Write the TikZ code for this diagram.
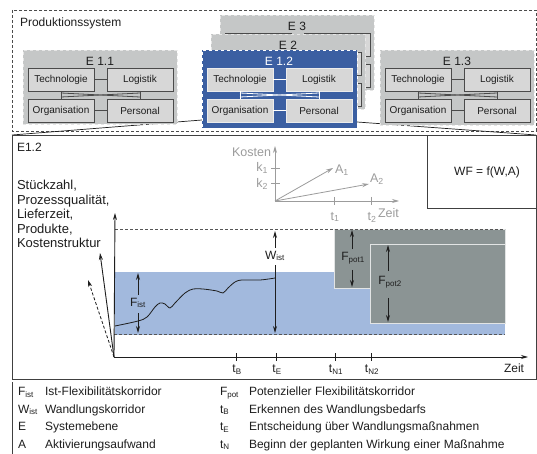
\documentclass[tikz,border=0pt]{standalone}
\usepackage{fontspec}
\setmainfont{Liberation Sans}
\usetikzlibrary{arrows.meta,calc}
\definecolor{hatch}{HTML}{C5C7C7}
\definecolor{ebord}{HTML}{E6E6E6}
\definecolor{ibox}{HTML}{D7D7D7}
\definecolor{iline}{HTML}{4A4A4A}
\definecolor{eblue}{HTML}{3B5FA2}
\definecolor{band}{HTML}{A2B9DD}
\definecolor{potg}{HTML}{8B9494}
\definecolor{chartg}{HTML}{9C9C9C}
\definecolor{ink}{HTML}{1E1E1E}
\tikzset{
  gframe/.style={fill=hatch, draw=ebord, dashed, line width=0.7pt, anchor=north west, minimum width=154},
  bframe/.style={fill=eblue, draw=white, dashed, line width=0.7pt, anchor=north west, minimum width=155},
  gtitle/.style={font=\fontsize{12}{14}\selectfont, text=ink},
  btitle/.style={font=\fontsize{12}{14}\selectfont, text=white},
  ginner/.style={fill=ibox, draw=iline, line width=0.9pt, anchor=north west, minimum width=66, minimum height=23, font=\fontsize{10}{12}\selectfont, text=ink},
  binner/.style={fill=ibox, draw=white!85!gray, line width=0.9pt, anchor=north west, minimum width=66, minimum height=23, font=\fontsize{10}{12}\selectfont, text=ink},
  glink/.style={draw=iline, line width=0.8pt},
  blink/.style={draw=white, line width=0.8pt},
  frame/.style={draw=ink!80, dashed, dash pattern=on 3pt off 2pt, line width=0.8pt},
  zline/.style={draw=ink, line width=0.7pt},
  panelbox/.style={draw=ink!85, line width=0.8pt, fill=white, anchor=north west},
  arr/.style={draw=ink, line width=0.9pt, -{Stealth[length=7pt,width=4pt]}},
  darr/.style={draw=ink, line width=0.8pt, dashed, dash pattern=on 3pt off 2pt, -{Stealth[length=7pt,width=4pt]}},
  carr/.style={draw=chartg, line width=0.8pt, -{Stealth[length=7pt,width=4pt]}},
  ctick/.style={draw=chartg, line width=0.8pt},
  clabel/.style={text=chartg, font=\fontsize{12.5}{14}\selectfont},
  corr/.style={draw=ink!75, dashed, dash pattern=on 3pt off 2pt, line width=0.8pt},
  mtick/.style={draw=ink, line width=0.9pt},
  lsym/.style={anchor=base west},
  ltxt/.style={anchor=base west},
}
% #1 prefix, #2 x, #3 y, #4 title, #5 height, #6 variant, #7 show labels (1/0)
\newcommand\EGroup[7]{%
  \ifnum#7=1
    \def\labT{Technologie}\def\labL{Logistik}\def\labO{Organisation}\def\labP{Personal}%
  \else
    \def\labT{}\def\labL{}\def\labO{}\def\labP{}%
  \fi
  \begin{scope}[shift={(#2,#3)}]
    \node[#6frame, minimum height=#5] (#1) at (0,0) {};
    \node[#6title] (#1t) at (77,11) {#4};
    \node[#6inner] (#1T) at (5,18) {\labT};
    \node[#6inner] (#1L) at (84,18) {\labL};
    \node[#6inner] (#1O) at (5,49) {\labO};
    \node[#6inner] (#1P) at (84,49) {\labP};
    \draw[#6link] (#1T) -- (#1L);
    \draw[#6link] (#1O) -- (#1P);
    \draw[#6link] (#1T) -- (#1O);
    \draw[#6link] (#1L) -- (#1P);
    \draw[#6link] ($(#1T.south)+(0,2)$) -- ($(#1P.north)+(0,-2)$);
    \draw[#6link] ($(#1L.south)+(0,2)$) -- ($(#1O.north)+(0,-2)$);
  \end{scope}}
\begin{document}
\begin{tikzpicture}[x=1pt,y=-1pt,
  every node/.style={font=\fontsize{12}{14}\selectfont, text=ink, inner sep=0pt, outer sep=0pt}]
\useasboundingbox (0,0) rectangle (537,454);
% production system frame
\coordinate (pf1) at (12,10);
\coordinate (pf2) at (536,131);
\draw[frame] (pf1) rectangle (pf2);
\node[anchor=west] (ps) at (20,23) {Produktionssystem};
% zoom lines
\coordinate (zl1) at (202,120);
\coordinate (zl2) at (12,135);
\coordinate (zr1) at (357,122);
\coordinate (zr2) at (536,135);
\draw[zline] (zl1) -- (zl2);
\draw[zline] (zr1) -- (zr2);
% system levels
\EGroup{Ee}{220}{15}{E 3}{75}{g}{0}
\EGroup{Ed}{211}{34}{E 2}{75}{g}{0}
\EGroup{Ea}{23}{50}{E 1.1}{74}{g}{1}
\EGroup{Ec}{380}{50}{E 1.3}{75}{g}{1}
\EGroup{Eb}{202}{50}{E 1.2}{78}{b}{1}
% detail panel
\node[panelbox, minimum width=524, minimum height=244] (panel) at (12,135) {};
\node[anchor=west] (e12) at (17,147) {E1.2};
\coordinate (dv1) at (427,135);
\coordinate (dv2) at (536,208);
\draw[draw=ink!85, line width=0.8pt] (dv1) |- (dv2);
\node (wf) at (487,172) {WF = f(W,A)};
\node[anchor=north west, align=left, font=\fontsize{13}{14.6}\selectfont] (params) at (17,180)
  {Stückzahl,\\Prozessqualität,\\Lieferzeit,\\Produkte,\\Kostenstruktur};
% small cost chart
\coordinate (ko) at (275,201);
\coordinate (ky) at (275,146);
\coordinate (kx) at (399,201);
\draw[carr] (ko) -- (ky);
\draw[carr] (ko) -- (kx);
\coordinate (k1a) at (271,168); \coordinate (k1b) at (280,168);
\coordinate (k2a) at (271,183); \coordinate (k2b) at (280,183);
\coordinate (t1a) at (334,197); \coordinate (t1b) at (334,205);
\coordinate (t2a) at (371,197); \coordinate (t2b) at (371,205);
\draw[ctick] (k1a) -- (k1b);
\draw[ctick] (k2a) -- (k2b);
\draw[ctick] (t1a) -- (t1b);
\draw[ctick] (t2a) -- (t2b);
\node[clabel, anchor=east] (kl) at (271,152) {Kosten};
\node[clabel, anchor=east] (k1l) at (268,168) {k\textsubscript{1}};
\node[clabel, anchor=east] (k2l) at (268,184) {k\textsubscript{2}};
\node[clabel] (t1l) at (335,217) {t\textsubscript{1}};
\node[clabel] (t2l) at (372,217) {t\textsubscript{2}};
\node[clabel, anchor=west] (zl) at (378,213) {Zeit};
\coordinate (a1) at (333,168);
\coordinate (a2) at (369,184);
\draw[carr] (ko) -- (a1);
\draw[carr] (ko) -- (a2);
\node[clabel] (a1l) at (342,170) {A\textsubscript{1}};
\node[clabel] (a2l) at (377,179) {A\textsubscript{2}};
% corridors
\fill[band] (115,272) rectangle (505,335);
\filldraw[fill=potg, draw=white!75!potg, line width=0.7pt] (334,229) rectangle (505,288);
\filldraw[fill=potg, draw=white!75!potg, line width=0.7pt] (370,244) rectangle (505,323);
\coordinate (c1a) at (115,229); \coordinate (c1b) at (505,229);
\coordinate (c2a) at (114,334); \coordinate (c2b) at (505,334);
\draw[corr] (c1a) -- (c1b);
\draw[corr] (c2a) -- (c2b);
% axes
\coordinate (O) at (114,357);
\coordinate (ytip) at (115,213);
\coordinate (xtip) at (528,357);
\coordinate (s1) at (100,253);
\coordinate (s2) at (88,280);
\draw[arr] (O) -- (ytip);
\draw[arr] (O) -- (xtip);
\draw[arr] (O) -- (s1);
\draw[darr] (O) -- (s2);
\node (zeit) at (514,368) {Zeit};
% time ticks
\foreach \nm/\xx/\lab in {tB/236/B, tE/276/E, tN1/335/N1, tN2/371/N2}{
  \coordinate (\nm a) at (\xx,353);
  \coordinate (\nm b) at (\xx,361);
  \draw[mtick] (\nm a) -- (\nm b);
  \node (\nm l) at (\xx+1,370) {t\textsubscript{\lab}};
}
% flexibility curve
\draw[ink, line width=0.8pt] plot[smooth, tension=0.55] coordinates {
  (115,326) (138,321) (147,317) (155,307) (160,303) (165,304) (170,308) (175,303)
  (185,293) (193,289) (203,289) (217,291) (223,293) (228,288) (235,282) (242,280)
  (260,280) (275,278)};
% labels with arrows
\node (fist) at (138,303) {F\textsubscript{ist}};
\coordinate (fistu) at (138,273); \coordinate (fistd) at (138,333);
\draw[arr] (fist.north) ++(0,-3) -- (fistu);
\draw[arr] (fist.south) ++(0,5) -- (fistd);
\node (wist) at (275,256) {W\textsubscript{ist}};
\coordinate (wistu) at (275,231); \coordinate (wistd) at (275,333);
\draw[arr] (wist.north) ++(0,-3) -- (wistu);
\draw[arr] (wist.south) ++(0,4) -- (wistd);
\node (fp1) at (353,258) {F\textsubscript{pot1}};
\coordinate (fp1u) at (352,230); \coordinate (fp1d) at (352,287);
\draw[arr] ($(fp1.north)+(-1,-3)$) -- (fp1u);
\draw[arr] ($(fp1.south)+(-1,6)$) -- (fp1d);
\node (fp2) at (390,282) {F\textsubscript{pot2}};
\coordinate (fp2u) at (388,245); \coordinate (fp2d) at (388,322);
\draw[arr] ($(fp2.north)+(-2,-5)$) -- (fp2u);
\draw[arr] ($(fp2.south)+(-2,10)$) -- (fp2d);
% legend
\coordinate (lg1) at (12,382); \coordinate (lg2) at (12,454);
\draw[draw=ink!85, line width=0.8pt] (lg1) -- (lg2);
\node[lsym] (l1s) at (18,395.5) {F\textsubscript{ist}};
\node[ltxt] (l1t) at (45,395.5) {Ist-Flexibilitätskorridor};
\node[lsym] (l2s) at (18,413) {W\textsubscript{ist}};
\node[ltxt] (l2t) at (45,413) {Wandlungskorridor};
\node[lsym] (l3s) at (18,430.5) {E};
\node[ltxt] (l3t) at (45,430.5) {Systemebene};
\node[lsym] (l4s) at (18,448) {A};
\node[ltxt] (l4t) at (45,448) {Aktivierungsaufwand};
\node[lsym] (r1s) at (220,395.5) {F\textsubscript{pot}};
\node[ltxt] (r1t) at (249,395.5) {Potenzieller Flexibilitätskorridor};
\node[lsym] (r2s) at (220,413) {t\textsubscript{B}};
\node[ltxt] (r2t) at (249,413) {Erkennen des Wandlungsbedarfs};
\node[lsym] (r3s) at (220,430.5) {t\textsubscript{E}};
\node[ltxt] (r3t) at (249,430.5) {Entscheidung über Wandlungsmaßnahmen};
\node[lsym] (r4s) at (220,448) {t\textsubscript{N}};
\node[ltxt] (r4t) at (249,448) {Beginn der geplanten Wirkung einer Maßnahme};
\end{tikzpicture}
\end{document}
